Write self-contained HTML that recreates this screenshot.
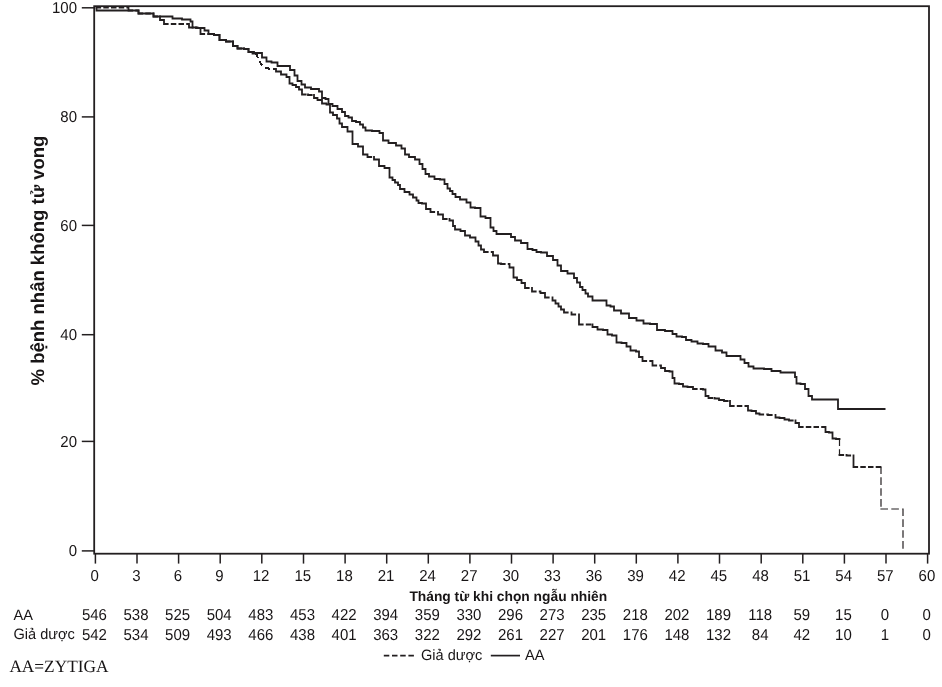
<!DOCTYPE html>
<html lang="vi"><head><meta charset="utf-8"><title>Kaplan-Meier</title>
<style>html,body{margin:0;padding:0;background:#fff}body{width:942px;height:687px;overflow:hidden}svg{display:block}text{fill:#181516;text-rendering:geometricPrecision}.n{font-family:"Liberation Sans",sans-serif;font-size:15.8px}.b{font-family:"Liberation Sans",sans-serif;font-weight:bold}.s{font-family:"Liberation Serif",serif;font-size:17.3px}</style></head><body>
<svg width="942" height="687" viewBox="0 0 942 687">
<rect width="942" height="687" fill="#fff"/>
<rect x="94.2" y="6.2" width="834.8" height="547.5" fill="none" stroke="#231f20" stroke-width="1.8"/>
<line x1="81.8" y1="7.8" x2="94.2" y2="7.8" stroke="#231f20" stroke-width="1.5"/>
<text class="n" transform="translate(77.0,13.1) scale(0.949,1)" text-anchor="end">100</text>
<line x1="81.8" y1="116.9" x2="94.2" y2="116.9" stroke="#231f20" stroke-width="1.5"/>
<text class="n" transform="translate(77.0,122.2) scale(0.949,1)" text-anchor="end">80</text>
<line x1="81.8" y1="225.4" x2="94.2" y2="225.4" stroke="#231f20" stroke-width="1.5"/>
<text class="n" transform="translate(77.0,230.7) scale(0.949,1)" text-anchor="end">60</text>
<line x1="81.8" y1="334.7" x2="94.2" y2="334.7" stroke="#231f20" stroke-width="1.5"/>
<text class="n" transform="translate(77.0,340.0) scale(0.949,1)" text-anchor="end">40</text>
<line x1="81.8" y1="441.4" x2="94.2" y2="441.4" stroke="#231f20" stroke-width="1.5"/>
<text class="n" transform="translate(77.0,446.7) scale(0.949,1)" text-anchor="end">20</text>
<line x1="81.8" y1="550.9" x2="94.2" y2="550.9" stroke="#231f20" stroke-width="1.5"/>
<text class="n" transform="translate(77.0,556.2) scale(0.949,1)" text-anchor="end">0</text>
<line x1="95.4" y1="553.7" x2="95.4" y2="563.6" stroke="#231f20" stroke-width="1.5"/>
<text class="n" transform="translate(94.7,580.5) scale(0.949,1)" text-anchor="middle">0</text>
<line x1="137.0" y1="553.7" x2="137.0" y2="563.6" stroke="#231f20" stroke-width="1.5"/>
<text class="n" transform="translate(136.3,580.5) scale(0.949,1)" text-anchor="middle">3</text>
<line x1="178.6" y1="553.7" x2="178.6" y2="563.6" stroke="#231f20" stroke-width="1.5"/>
<text class="n" transform="translate(177.9,580.5) scale(0.949,1)" text-anchor="middle">6</text>
<line x1="220.2" y1="553.7" x2="220.2" y2="563.6" stroke="#231f20" stroke-width="1.5"/>
<text class="n" transform="translate(219.5,580.5) scale(0.949,1)" text-anchor="middle">9</text>
<line x1="261.8" y1="553.7" x2="261.8" y2="563.6" stroke="#231f20" stroke-width="1.5"/>
<text class="n" transform="translate(261.1,580.5) scale(0.949,1)" text-anchor="middle">12</text>
<line x1="303.5" y1="553.7" x2="303.5" y2="563.6" stroke="#231f20" stroke-width="1.5"/>
<text class="n" transform="translate(302.8,580.5) scale(0.949,1)" text-anchor="middle">15</text>
<line x1="345.1" y1="553.7" x2="345.1" y2="563.6" stroke="#231f20" stroke-width="1.5"/>
<text class="n" transform="translate(344.4,580.5) scale(0.949,1)" text-anchor="middle">18</text>
<line x1="386.7" y1="553.7" x2="386.7" y2="563.6" stroke="#231f20" stroke-width="1.5"/>
<text class="n" transform="translate(386.0,580.5) scale(0.949,1)" text-anchor="middle">21</text>
<line x1="428.3" y1="553.7" x2="428.3" y2="563.6" stroke="#231f20" stroke-width="1.5"/>
<text class="n" transform="translate(427.6,580.5) scale(0.949,1)" text-anchor="middle">24</text>
<line x1="469.9" y1="553.7" x2="469.9" y2="563.6" stroke="#231f20" stroke-width="1.5"/>
<text class="n" transform="translate(469.2,580.5) scale(0.949,1)" text-anchor="middle">27</text>
<line x1="511.5" y1="553.7" x2="511.5" y2="563.6" stroke="#231f20" stroke-width="1.5"/>
<text class="n" transform="translate(510.8,580.5) scale(0.949,1)" text-anchor="middle">30</text>
<line x1="553.1" y1="553.7" x2="553.1" y2="563.6" stroke="#231f20" stroke-width="1.5"/>
<text class="n" transform="translate(552.4,580.5) scale(0.949,1)" text-anchor="middle">33</text>
<line x1="594.7" y1="553.7" x2="594.7" y2="563.6" stroke="#231f20" stroke-width="1.5"/>
<text class="n" transform="translate(594.0,580.5) scale(0.949,1)" text-anchor="middle">36</text>
<line x1="636.3" y1="553.7" x2="636.3" y2="563.6" stroke="#231f20" stroke-width="1.5"/>
<text class="n" transform="translate(635.6,580.5) scale(0.949,1)" text-anchor="middle">39</text>
<line x1="677.9" y1="553.7" x2="677.9" y2="563.6" stroke="#231f20" stroke-width="1.5"/>
<text class="n" transform="translate(677.2,580.5) scale(0.949,1)" text-anchor="middle">42</text>
<line x1="719.5" y1="553.7" x2="719.5" y2="563.6" stroke="#231f20" stroke-width="1.5"/>
<text class="n" transform="translate(718.8,580.5) scale(0.949,1)" text-anchor="middle">45</text>
<line x1="761.2" y1="553.7" x2="761.2" y2="563.6" stroke="#231f20" stroke-width="1.5"/>
<text class="n" transform="translate(760.5,580.5) scale(0.949,1)" text-anchor="middle">48</text>
<line x1="802.8" y1="553.7" x2="802.8" y2="563.6" stroke="#231f20" stroke-width="1.5"/>
<text class="n" transform="translate(802.1,580.5) scale(0.949,1)" text-anchor="middle">51</text>
<line x1="844.4" y1="553.7" x2="844.4" y2="563.6" stroke="#231f20" stroke-width="1.5"/>
<text class="n" transform="translate(843.7,580.5) scale(0.949,1)" text-anchor="middle">54</text>
<line x1="886.0" y1="553.7" x2="886.0" y2="563.6" stroke="#231f20" stroke-width="1.5"/>
<text class="n" transform="translate(885.3,580.5) scale(0.949,1)" text-anchor="middle">57</text>
<line x1="927.6" y1="553.7" x2="927.6" y2="563.6" stroke="#231f20" stroke-width="1.5"/>
<text class="n" transform="translate(926.9,580.5) scale(0.949,1)" text-anchor="middle">60</text>
<path d="M256 53.5L258.7 59.8L261.3 64.1L265.6 67.8L269.8 68.8L274.9 68.8" fill="none" stroke="#231f20" stroke-width="2" stroke-dasharray="5 3.4" shape-rendering="crispEdges"/>
<path d="M96.5 7.5L128.5 7.5M128.5 7.5L128.5 10.5M128.5 10.5L138.5 10.5M138.5 10.5L138.5 13.5M138.5 13.5L153.5 13.5M153.5 13.5L153.5 16.5M153.5 16.5L160 16.5M160 16.5L160 20M160 20L164 20M164 20L164 22M164 22L164 24M164 24L189 24M189 24L189 27.5M189 27.5L196 27.5M196 27.5L196 28M196 28L200.5 28M200.5 28L200.5 30M200.5 30L200.5 32M200.5 32L200.5 34M200.5 34L214 34M214 34L214 35M214 35L219.5 35M219.5 35L219.5 37.5M219.5 37.5L219.5 40M219.5 40L226 40M226 40L226 41.5M226 41.5L233 41.5M233 41.5L233 43.75M233 43.75L233 46M233 46L237.5 46M237.5 46L237.5 48.5M237.5 48.5L244 48.5M244 48.5L244 49M244 49L248.5 49M248.5 49L248.5 52M248.5 52L252.5 52M252.5 52L252.5 53.5M252.5 53.5L256 53.5M275 69L276 69M276 69L276 71.5M276 71.5L281 71.5M281 71.5L281 74.5M281 74.5L286.5 74.5M286.5 74.5L286.5 77M286.5 77L289.5 77M289.5 77L289.5 79.1667M289.5 79.1667L289.5 81.3333M289.5 81.3333L289.5 83.5M289.5 83.5L292.5 83.5M292.5 83.5L292.5 85M292.5 85L296 85M296 85L296 87M296 87L299 87M299 87L299 89.5M299 89.5L302 89.5M302 89.5L302 92M302 92L302 94.5M302 94.5L308 94.5M308 94.5L308 95M308 95L314 95M314 95L314 98M314 98L317.5 98M317.5 98L317.5 100M317.5 100L322 100M322 100L322 103.5M322 103.5L326.5 103.5M326.5 103.5L326.5 104.5M326.5 104.5L330 104.5M330 104.5L330 107.167M330 107.167L330 109.833M330 109.833L330 112.5M330 112.5L333 112.5M333 112.5L333 115M333 115L337 115M337 115L337 118.5M337 118.5L339.5 118.5M339.5 118.5L339.5 121M339.5 121L339.5 123.5M339.5 123.5L342 123.5M342 123.5L342 127M342 127L347.5 127M347.5 127L347.5 129.25M347.5 129.25L347.5 131.5M347.5 131.5L352.5 131.5M352.5 131.5L352.5 134M352.5 134L352.5 136.5M352.5 136.5L352.5 139M352.5 139L352.5 141.5M352.5 141.5L352.5 144M352.5 144L358 144M358 144L358 146.5M358 146.5L363 146.5M363 146.5L363 149.167M363 149.167L363 151.833M363 151.833L363 154.5M363 154.5L367.5 154.5M367.5 154.5L367.5 157M367.5 157L374 157M374 157L374 159.5M374 159.5L379 159.5M379 159.5L379 161.667M379 161.667L379 163.833M379 163.833L379 166M379 166L384.5 166M384.5 166L384.5 168M384.5 168L389.5 168M389.5 168L389.5 170.375M389.5 170.375L389.5 172.75M389.5 172.75L389.5 175.125M389.5 175.125L389.5 177.5M389.5 177.5L392.5 177.5M392.5 177.5L392.5 180M392.5 180L395 180M395 180L395 182.5M395 182.5L398 182.5M398 182.5L398 185M398 185L400 185M400 185L400 187M400 187L400 189M400 189L404.5 189M404.5 189L404.5 192M404.5 192L409.5 192M409.5 192L409.5 194.5M409.5 194.5L413 194.5M413 194.5L413 197.5M413 197.5L416.5 197.5M416.5 197.5L416.5 200.5M416.5 200.5L418.5 200.5M418.5 200.5L418.5 203M418.5 203L422 203M422 203L422 203.5M422 203.5L426 203.5M426 203.5L426 206.25M426 206.25L426 209M426 209L430.5 209M430.5 209L430.5 212M430.5 212L438 212M438 212L438 214.5M438 214.5L443 214.5M443 214.5L443 216.75M443 216.75L443 219M443 219L449.5 219M449.5 219L449.5 220.5M449.5 220.5L453 220.5M453 220.5L453 223.25M453 223.25L453 226M453 226L455 226M455 226L455 229.5M455 229.5L460.5 229.5M460.5 229.5L460.5 231M460.5 231L465 231M465 231L465 233.25M465 233.25L465 235.5M465 235.5L470 235.5M470 235.5L470 237.5M470 237.5L475.5 237.5M475.5 237.5L475.5 239.5M475.5 239.5L475.5 241.5M475.5 241.5L478.5 241.5M478.5 241.5L478.5 243.5M478.5 243.5L478.5 245.5M478.5 245.5L481 245.5M481 245.5L481 247.5M481 247.5L481 249.5M481 249.5L484 249.5M484 249.5L484 252M484 252L493 252M493 252L493 255.5M493 255.5L498 255.5M498 255.5L498 258.167M498 258.167L498 260.833M498 260.833L498 263.5M498 263.5L501 263.5M501 263.5L501 264M501 264L509.5 264M509.5 264L509.5 267.5M509.5 267.5L513.5 267.5M513.5 267.5L513.5 270M513.5 270L513.5 272.5M513.5 272.5L513.5 275M513.5 275L513.5 277.5M513.5 277.5L517 277.5M517 277.5L517 280M517 280L521.5 280M521.5 280L521.5 283M521.5 283L525 283M525 283L525 285.5M525 285.5L525 288M525 288L532 288M532 288L532 291.5M532 291.5L540.5 291.5M540.5 291.5L540.5 293M540.5 293L545 293M545 293L545 295.25M545 295.25L545 297.5M545 297.5L552.5 297.5M552.5 297.5L552.5 300.5M552.5 300.5L555.5 300.5M555.5 300.5L555.5 303.5M555.5 303.5L558.5 303.5M558.5 303.5L558.5 306.5M558.5 306.5L561 306.5M561 306.5L561 309.5M561 309.5L564 309.5M564 309.5L564 312.5M564 312.5L571.5 312.5M571.5 312.5L571.5 314.5M571.5 314.5L579 314.5M579 314.5L579 317M579 317L579 319.5M579 319.5L579 322M579 322L579 324.5M579 324.5L592.5 324.5M592.5 324.5L592.5 327M592.5 327L597.5 327M597.5 327L597.5 329.5M597.5 329.5L603 329.5M603 329.5L603 330M603 330L607.5 330M607.5 330L607.5 332.25M607.5 332.25L607.5 334.5M607.5 334.5L612 334.5M612 334.5L612 335.5M612 335.5L616.5 335.5M616.5 335.5L616.5 337.833M616.5 337.833L616.5 340.167M616.5 340.167L616.5 342.5M616.5 342.5L621.5 342.5M621.5 342.5L621.5 343M621.5 343L626.5 343M626.5 343L626.5 346.5M626.5 346.5L630.5 346.5M630.5 346.5L630.5 348.5M630.5 348.5L630.5 350.5M630.5 350.5L636 350.5M636 350.5L636 351.5M636 351.5L639 351.5M639 351.5L639 354.25M639 354.25L639 357M639 357L642.5 357M642.5 357L642.5 359M642.5 359L642.5 361M642.5 361L652.5 361M652.5 361L652.5 363.25M652.5 363.25L652.5 365.5M652.5 365.5L661 365.5M661 365.5L661 368M661 368L665 368M665 368L665 371M665 371L669.5 371M669.5 371L669.5 371.5M669.5 371.5L672.5 371.5M672.5 371.5L672.5 373.667M672.5 373.667L672.5 375.833M672.5 375.833L672.5 378M672.5 378L674.5 378M674.5 378L674.5 380.75M674.5 380.75L674.5 383.5M674.5 383.5L679 383.5M679 383.5L679 384M679 384L683 384M683 384L683 386.5M683 386.5L687.5 386.5M687.5 386.5L687.5 387M687.5 387L693 387M693 387L693 389M693 389L703 389M703 389L703 389.5M703 389.5L705.5 389.5M705.5 389.5L705.5 391.667M705.5 391.667L705.5 393.833M705.5 393.833L705.5 396M705.5 396L708.5 396M708.5 396L708.5 398M708.5 398L714.5 398M714.5 398L714.5 398.5M714.5 398.5L719 398.5M719 398.5L719 400M719 400L724 400M724 400L724 401M724 401L730 401M730 401L730 403.5M730 403.5L730 406M730 406L748 406M748 406L748 408.25M748 408.25L748 410.5M748 410.5L751.5 410.5M751.5 410.5L751.5 411M751.5 411L756 411M756 411L756 413.5M756 413.5L759.5 413.5M759.5 413.5L759.5 414.5M759.5 414.5L768 414.5M768 414.5L768 415M768 415L775.5 415M775.5 415L775.5 417.5M775.5 417.5L779.5 417.5M779.5 417.5L779.5 418M779.5 418L784.5 418M784.5 418L784.5 419.5M784.5 419.5L789 419.5M789 419.5L789 420.5M789 420.5L795.5 420.5M795.5 420.5L795.5 423M795.5 423L799 423M799 423L799 425M799 425L799 427M799 427L825.5 427M825.5 427L825.5 429.5M825.5 429.5L825.5 432M825.5 432L829 432M829 432L829 432.5M829 432.5L832.5 432.5M832.5 432.5L832.5 434.5M832.5 434.5L832.5 436.5M832.5 436.5L832.5 438.5M832.5 438.5L836 438.5M836 438.5L836 439M836 439L839.5 439M839.5 455L846.5 455M846.5 455L846.5 455.5M846.5 455.5L853.5 455.5M853.5 455.5L853.5 458.375M853.5 458.375L853.5 461.25M853.5 461.25L853.5 464.125M853.5 464.125L853.5 467M853.5 467L881 467" fill="none" stroke="#231f20" stroke-width="1.8" stroke-linecap="square" stroke-dasharray="3.7 4"/>
<path d="M839.5 439L839.5 455M881 467L881 509M881 509L903 509M903 509L903 550.5" fill="none" stroke="#231f20" stroke-width="1.2" stroke-linecap="square" stroke-dasharray="6.4 4.5"/>
<path d="M96.5 7.5L96.5 10.5L138.5 10.5L138.5 13.5L153.5 13.5L153.5 16.5L172.5 16.5L172.5 18.5L182 18.5L182 19.5L190.5 19.5L190.5 21.5L192.5 21.5L192.5 27.5L197.5 27.5L197.5 28L204.5 28L204.5 30.5L208.5 30.5L208.5 34L214 34L214 35L219.5 35L219.5 40L226 40L226 41.5L233 41.5L233 46L237.5 46L237.5 48.5L244 48.5L244 49L248.5 49L248.5 52L254 52L254 53L262 53L262 57.5L266.5 57.5L266.5 61.5L271.5 61.5L271.5 62.5L277.5 62.5L277.5 66L290 66L290 70L294.5 70L294.5 75.5L297.5 75.5L297.5 81L301.5 81L301.5 84.5L305 84.5L305 87.5L311 87.5L311 89L319 89L319 91.5L322 91.5L322 98L325.5 98L325.5 99L328.5 99L328.5 104L332.5 104L332.5 106L337.5 106L337.5 109L342 109L342 112L345 112L345 116L348.5 116L348.5 117.5L352 117.5L352 121L356 121L356 122L360 122L360 124.5L363 124.5L363 127.5L365.5 127.5L365.5 130.5L372 130.5L372 131L379.5 131L379.5 133L383 133L383 140.5L388.5 140.5L388.5 143L396 143L396 145.5L401.5 145.5L401.5 148.5L405 148.5L405 154.5L409 154.5L409 157L415 157L415 159.5L419.5 159.5L419.5 164L422.5 164L422.5 169L425.5 169L425.5 174L429 174L429 176.5L434.5 176.5L434.5 179L440 179L440 179.5L444.5 179.5L444.5 184L447.5 184L447.5 188.5L450 188.5L450 191L452.5 191L452.5 194L455.5 194L455.5 197L460 197L460 199.5L466.5 199.5L466.5 202.5L470.5 202.5L470.5 207.5L475 207.5L475 208L480.5 208L480.5 216.5L485.5 216.5L485.5 218L490.5 218L490.5 227.5L493.5 227.5L493.5 231L496.5 231L496.5 234L511 234L511 237L515 237L515 240.5L521 240.5L521 243L527.5 243L527.5 249L532.5 249L532.5 250L536.5 250L536.5 252L541 252L541 252.5L547 252.5L547 256L553 256L553 260L557.5 260L557.5 265.5L561 265.5L561 271L567.5 271L567.5 273.5L574 273.5L574 278L577 278L577 282.5L580 282.5L580 287L582.5 287L582.5 290L585.5 290L585.5 293.5L588 293.5L588 296.5L592.5 296.5L592.5 300.5L606.5 300.5L606.5 305.5L610.5 305.5L610.5 306.5L614 306.5L614 310.5L621 310.5L621 313.5L629 313.5L629 318L636.5 318L636.5 320.5L643.5 320.5L643.5 323.5L650 323.5L650 324L657 324L657 330L665 330L665 331L672.5 331L672.5 334L676.5 334L676.5 336.5L682 336.5L682 337L686 337L686 340L691.5 340L691.5 341.5L697.5 341.5L697.5 343.5L703 343.5L703 344L708.5 344L708.5 346.5L715.5 346.5L715.5 350.5L722 350.5L722 352.5L726.5 352.5L726.5 356L740.5 356L740.5 359.5L744.5 359.5L744.5 363L748.5 363L748.5 366.5L753.5 366.5L753.5 368.5L764 368.5L764 369L771.5 369L771.5 371L780.5 371L780.5 372.5L795 372.5L795 377L796.5 377L796.5 383.5L800.5 383.5L800.5 384L805 384L805 389L808.5 389L808.5 396L812 396L812 399.5L838 399.5L838 409L885.5 409" fill="none" stroke="#231f20" stroke-width="1.8" stroke-linejoin="miter"/>
<text class="b" font-size="13.8" x="508.3" y="600.7" text-anchor="middle">Tháng từ khi chọn ngẫu nhiên</text>
<text class="b" font-size="18.5" transform="translate(44,260.5) rotate(-90)" text-anchor="middle">% bệnh nhân không tử vong</text>
<text class="n" style="font-size:15px" transform="translate(13.5,619.6) scale(0.97,1)">AA</text>
<text class="n" style="font-size:15px" transform="translate(13.5,639.2) scale(0.97,1)">Giả dược</text>
<text class="n" transform="translate(94.4,619.9) scale(0.949,1)" text-anchor="middle">546</text>
<text class="n" transform="translate(94.4,639.5) scale(0.949,1)" text-anchor="middle">542</text>
<text class="n" transform="translate(136.0,619.9) scale(0.949,1)" text-anchor="middle">538</text>
<text class="n" transform="translate(136.0,639.5) scale(0.949,1)" text-anchor="middle">534</text>
<text class="n" transform="translate(177.6,619.9) scale(0.949,1)" text-anchor="middle">525</text>
<text class="n" transform="translate(177.6,639.5) scale(0.949,1)" text-anchor="middle">509</text>
<text class="n" transform="translate(219.2,619.9) scale(0.949,1)" text-anchor="middle">504</text>
<text class="n" transform="translate(219.2,639.5) scale(0.949,1)" text-anchor="middle">493</text>
<text class="n" transform="translate(260.8,619.9) scale(0.949,1)" text-anchor="middle">483</text>
<text class="n" transform="translate(260.8,639.5) scale(0.949,1)" text-anchor="middle">466</text>
<text class="n" transform="translate(302.5,619.9) scale(0.949,1)" text-anchor="middle">453</text>
<text class="n" transform="translate(302.5,639.5) scale(0.949,1)" text-anchor="middle">438</text>
<text class="n" transform="translate(344.1,619.9) scale(0.949,1)" text-anchor="middle">422</text>
<text class="n" transform="translate(344.1,639.5) scale(0.949,1)" text-anchor="middle">401</text>
<text class="n" transform="translate(385.7,619.9) scale(0.949,1)" text-anchor="middle">394</text>
<text class="n" transform="translate(385.7,639.5) scale(0.949,1)" text-anchor="middle">363</text>
<text class="n" transform="translate(427.3,619.9) scale(0.949,1)" text-anchor="middle">359</text>
<text class="n" transform="translate(427.3,639.5) scale(0.949,1)" text-anchor="middle">322</text>
<text class="n" transform="translate(468.9,619.9) scale(0.949,1)" text-anchor="middle">330</text>
<text class="n" transform="translate(468.9,639.5) scale(0.949,1)" text-anchor="middle">292</text>
<text class="n" transform="translate(510.5,619.9) scale(0.949,1)" text-anchor="middle">296</text>
<text class="n" transform="translate(510.5,639.5) scale(0.949,1)" text-anchor="middle">261</text>
<text class="n" transform="translate(552.1,619.9) scale(0.949,1)" text-anchor="middle">273</text>
<text class="n" transform="translate(552.1,639.5) scale(0.949,1)" text-anchor="middle">227</text>
<text class="n" transform="translate(593.7,619.9) scale(0.949,1)" text-anchor="middle">235</text>
<text class="n" transform="translate(593.7,639.5) scale(0.949,1)" text-anchor="middle">201</text>
<text class="n" transform="translate(635.3,619.9) scale(0.949,1)" text-anchor="middle">218</text>
<text class="n" transform="translate(635.3,639.5) scale(0.949,1)" text-anchor="middle">176</text>
<text class="n" transform="translate(676.9,619.9) scale(0.949,1)" text-anchor="middle">202</text>
<text class="n" transform="translate(676.9,639.5) scale(0.949,1)" text-anchor="middle">148</text>
<text class="n" transform="translate(718.5,619.9) scale(0.949,1)" text-anchor="middle">189</text>
<text class="n" transform="translate(718.5,639.5) scale(0.949,1)" text-anchor="middle">132</text>
<text class="n" transform="translate(760.2,619.9) scale(0.949,1)" text-anchor="middle">118</text>
<text class="n" transform="translate(760.2,639.5) scale(0.949,1)" text-anchor="middle">84</text>
<text class="n" transform="translate(801.8,619.9) scale(0.949,1)" text-anchor="middle">59</text>
<text class="n" transform="translate(801.8,639.5) scale(0.949,1)" text-anchor="middle">42</text>
<text class="n" transform="translate(843.4,619.9) scale(0.949,1)" text-anchor="middle">15</text>
<text class="n" transform="translate(843.4,639.5) scale(0.949,1)" text-anchor="middle">10</text>
<text class="n" transform="translate(885.0,619.9) scale(0.949,1)" text-anchor="middle">0</text>
<text class="n" transform="translate(885.0,639.5) scale(0.949,1)" text-anchor="middle">1</text>
<text class="n" transform="translate(926.6,619.9) scale(0.949,1)" text-anchor="middle">0</text>
<text class="n" transform="translate(926.6,639.5) scale(0.949,1)" text-anchor="middle">0</text>
<line x1="383.8" y1="655.6" x2="413.9" y2="655.6" stroke="#231f20" stroke-width="1.8" stroke-dasharray="5.5 2.7"/>
<text class="n" style="font-size:15px" transform="translate(421.0,660.3) scale(0.97,1)">Giả dược</text>
<line x1="490.8" y1="655.6" x2="520" y2="655.6" stroke="#231f20" stroke-width="1.7"/>
<text class="n" style="font-size:15px" transform="translate(525.0,660.3) scale(0.97,1)">AA</text>
<text class="s" x="9.4" y="671.6">AA=ZYTIGA</text>
</svg></body></html>
